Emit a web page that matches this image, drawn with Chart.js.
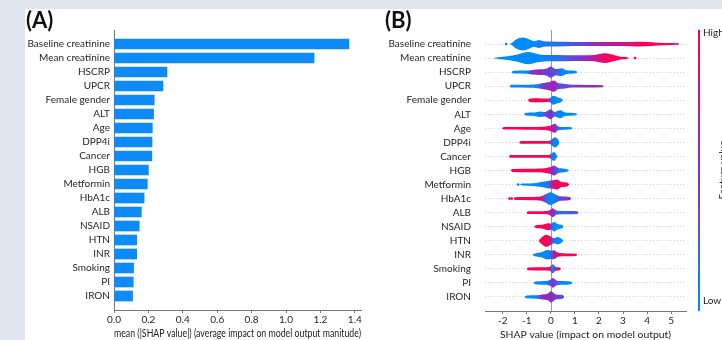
<!DOCTYPE html>
<html>
<head>
<meta charset="utf-8">
<script src="https://cdn.jsdelivr.net/npm/chart.js@4.4.0/dist/chart.umd.min.js"></script>
<style>
html,body{margin:0;padding:0;}
body{width:722px;height:340px;background:#dfe5ef;position:relative;overflow:hidden;font-family:Lato,sans-serif;color:#1a1a1a;}
#sheet{position:absolute;left:25px;top:9px;width:697px;height:331px;background:#fff;}
canvas{position:absolute;}
#cB{left:365px;top:9px;}
#cA{left:25px;top:9px;}
.tag{position:absolute;font:bold 22px Lato;line-height:22px;color:#111;}
.cb-txt{position:absolute;font:10px Lato;line-height:12px;color:#222;}
#cbar{position:absolute;left:698px;top:30px;width:2px;height:281px;background:linear-gradient(to bottom,#ff0052,#8a2dc7,#008bfb);}
#fv{position:absolute;left:0;top:0;font:10px Lato;line-height:12px;color:#222;white-space:nowrap;transform:translate(722px,170px) translate(-50%,-50%) rotate(-90deg);}
</style>
</head>
<body>
<div id="sheet"></div>
<canvas id="cB" width="357" height="331"></canvas>
<canvas id="cA" width="390" height="331"></canvas>
<div class="tag" style="left:26px;top:9px">(A)</div>
<div class="tag" style="left:385px;top:9px">(B)</div>
<div id="cbar"></div>
<div class="cb-txt" style="left:703px;top:26px">High</div>
<div class="cb-txt" style="left:703px;top:294px">Low</div>
<div id="fv">Feature value</div>
<script>
/* ══ DATA ══ */
const features=['Baseline creatinine','Mean creatinine','HSCRP','UPCR','Female gender','ALT','Age','DPP4i','Cancer','HGB','Metformin','HbA1c','ALB','NSAID','HTN','INR','Smoking','PI','IRON'];
const meanAbsShap=[1.366,1.163,0.308,0.285,0.234,0.230,0.223,0.221,0.220,0.200,0.194,0.175,0.159,0.147,0.132,0.132,0.114,0.112,0.108];
const barTicks=[0,0.2,0.4,0.6,0.8,1.0,1.2,1.4];
const shapTicks=[-2,-1,0,1,2,3,4,5];

// beeswarm density knots: [SHAP value, half spread (rows), feature value 0=low..1=high]
const knBaseline=[[-1.72,0,0],[-1.62,0.08,0],[-1.45,0.32,0],[-1.17,0.46,0],[-0.86,0.3,0],[-0.7,0.2,0],[-0.5,0.29,0.05],[-0.3,0.2,0.1],[0,0.18,0.1],[0.6,0.16,0.2],[1.2,0.14,0.35],[2.0,0.14,0.55],[2.7,0.14,0.75],[3.3,0.15,0.85],[3.75,0.17,0.95],[4.2,0.13,1],[4.7,0.08,1],[5.3,0.05,1],[5.35,0,1]];
const knMeanCreat=[[-2.42,0,0],[-2.2,0.06,0],[-1.8,0.14,0],[-1.4,0.26,0],[-0.95,0.44,0],[-0.55,0.3,0],[-0.2,0.22,0.05],[0.3,0.22,0.15],[0.9,0.2,0.35],[1.4,0.2,0.5],[1.8,0.22,0.75],[2.25,0.34,0.95],[2.65,0.2,1],[2.9,0.1,1],[3.2,0.05,1],[3.25,0,1]];
const knHSCRP=[[-1.65,0,0],[-1.55,0.1,0],[-1.0,0.11,0],[-0.8,0.16,0.45],[-0.45,0.2,0.55],[-0.2,0.24,0.4],[0,0.4,0.4],[0.2,0.22,0.3],[0.45,0.28,0],[0.65,0.13,0],[1.05,0.08,0],[1.1,0,0]];
const knUPCR=[[-1.72,0,0],[-1.65,0.1,0],[-0.9,0.11,0],[-0.55,0.14,0.1],[-0.3,0.22,0.45],[-0.05,0.3,0.55],[0.12,0.4,0.6],[0.3,0.22,0.35],[0.6,0.16,0.3],[0.9,0.1,0.45],[1.5,0.09,0.55],[2.15,0.07,0.6],[2.2,0,0.6]];
const knFemale=[[-0.95,0,1],[-0.9,0.1,1],[-0.55,0.15,1],[-0.2,0.12,1],[-0.05,0.14,0.3],[0.1,0.32,0],[0.3,0.2,0],[0.45,0.1,0],[0.5,0,0]];
const knALT=[[-1.12,0,0],[-1.05,0.09,0],[-0.7,0.12,0],[-0.45,0.2,0],[-0.25,0.16,0.3],[0,0.36,0.5],[0.15,0.16,0.2],[0.38,0.28,0],[0.6,0.12,0],[1.05,0.07,0],[1.1,0,0]];
const knAge=[[-2.05,0,1],[-1.95,0.09,1],[-1.0,0.1,1],[-0.3,0.12,1],[0,0.2,0.8],[0.17,0.32,0.5],[0.3,0.14,0.2],[0.6,0.1,0],[0.85,0.07,0],[0.9,0,0]];
const knDPP4i=[[-1.32,0,1],[-1.25,0.1,1],[-0.5,0.1,1],[-0.1,0.1,1],[0.02,0.18,0.2],[0.17,0.36,0],[0.3,0.2,0],[0.36,0,0]];
const knCancer=[[-1.75,0,1],[-1.68,0.1,1],[-0.5,0.1,1],[-0.08,0.1,1],[0.03,0.22,0.1],[0.13,0.32,0],[0.22,0.15,0],[0.28,0,0]];
const knHGB=[[-1.68,0,1],[-1.6,0.1,1],[-0.8,0.12,1],[-0.2,0.17,1],[0,0.26,0.6],[0.13,0.36,0.45],[0.3,0.2,0.1],[0.55,0.13,0],[0.7,0.07,0],[0.75,0,0]];
const knMetformin=[[-1.3,0,0],[-1.2,0.07,0],[-0.7,0.1,0],[-0.4,0.18,0],[-0.15,0.26,0.1],[0.1,0.3,0.8],[0.25,0.36,0.9],[0.45,0.18,1],[0.7,0.12,1],[0.76,0,1]];
const knHbA1c=[[-1.55,0,1],[-1.5,0.1,1],[-0.8,0.11,1],[-0.4,0.16,0.8],[-0.2,0.32,0.2],[-0.03,0.46,0],[0.2,0.3,0.1],[0.4,0.16,0.4],[0.8,0.1,0.5],[0.85,0,0.5]];
const knALB=[[-1.02,0,1],[-0.95,0.1,1],[-0.4,0.1,1],[-0.08,0.15,0.8],[0.08,0.32,0.5],[0.25,0.14,0.2],[0.7,0.12,0.2],[1.1,0.1,0.3],[1.15,0,0.3]];
const knNSAID=[[-0.7,0,1],[-0.62,0.1,1],[-0.35,0.14,1],[-0.12,0.24,1],[0.02,0.22,0.3],[0.13,0.34,0],[0.3,0.18,0],[0.48,0.1,0],[0.52,0,0]];
const knHTN=[[-0.52,0,1],[-0.42,0.18,1],[-0.2,0.43,1],[0,0.3,0.7],[0.12,0.18,0.1],[0.3,0.26,0],[0.45,0.12,0],[0.52,0,0]];
const knINR=[[-0.78,0,0],[-0.7,0.08,0],[-0.4,0.18,0],[-0.15,0.34,0],[0,0.3,0.2],[0.13,0.32,0.6],[0.3,0.14,0.9],[0.7,0.1,1],[1.05,0.08,1],[1.1,0,1]];
const knSmoking=[[-1.02,0,1],[-0.95,0.1,1],[-0.4,0.12,1],[-0.05,0.14,0.9],[0.08,0.32,0],[0.2,0.14,0.6],[0.38,0.1,1],[0.42,0,1]];
const knPI=[[-0.72,0,0],[-0.65,0.1,0],[-0.2,0.14,0],[0,0.24,0.4],[0.08,0.34,0.5],[0.25,0.16,0.2],[0.5,0.14,0],[0.85,0.08,0],[0.9,0,0]];
const knIRON=[[-1.1,0,0],[-1.0,0.1,0],[-0.6,0.12,0],[-0.35,0.18,0.6],[-0.12,0.24,0.5],[0,0.4,0.5],[0.18,0.2,0.45],[0.4,0.15,0.3],[0.52,0.1,0.2],[0.56,0,0.2]];
const swarmKnots=[knBaseline,knMeanCreat,knHSCRP,knUPCR,knFemale,knALT,knAge,knDPP4i,knCancer,knHGB,knMetformin,knHbA1c,knALB,knNSAID,knHTN,knINR,knSmoking,knPI,knIRON];
// single points: [row, SHAP value, feature value]
const swarmDots=[[0,-1.86,0],[1,3.5,1],[10,-1.36,0],[11,-1.72,1],[11,-1.63,1],[2,-0.72,1],[2,-0.5,1],[2,-0.28,1],[3,-0.05,1],[12,0.8,1],[12,1.0,0.6],[18,-0.45,1],[18,-0.3,1],[15,0.2,1]];

/* ══ HELPERS ══ */
const BLUE=[0,139,251],MID=[138,45,199],RED=[255,0,82];
function featColour(v){
  const a=v<0.5?BLUE:MID,b=v<0.5?MID:RED,t=v<0.5?v*2:(v-0.5)*2;
  return `rgb(${a.map((c,i)=>Math.round(c+(b[i]-c)*t)).join(',')})`;
}
function knotGradient(chart,kn){
  const xs=chart.scales.x;
  if(!chart.chartArea||!xs)return featColour(0.5);
  const x0=xs.getPixelForValue(kn[0][0]),x1=xs.getPixelForValue(kn[kn.length-1][0]);
  const g=chart.ctx.createLinearGradient(x0,0,x1,0);
  kn.forEach(k=>g.addColorStop(Math.min(1,Math.max(0,(xs.getPixelForValue(k[0])-x0)/(x1-x0))),featColour(k[2])));
  return g;
}
Chart.defaults.font.family='Lato';
Chart.defaults.font.size=10;
Chart.defaults.color='#262626';
const tickFont={family:'Lato',size:10};

/* ══ (A) BAR ══ */
new Chart(document.getElementById('cA'),{
  type:'bar',
  data:{datasets:[{data:features.map((f,i)=>({x:meanAbsShap[i],y:i})),backgroundColor:'#0e8bf6',barThickness:10}]},
  options:{
    indexAxis:'y',responsive:false,animation:false,
    layout:{padding:{top:21,right:54,left:0,bottom:0}},
    plugins:{legend:{display:false},tooltip:{enabled:false}},
    scales:{
      x:{type:'linear',min:0,max:1.436,
        afterBuildTicks:s=>{s.ticks=barTicks.map(v=>({value:v}));},
        ticks:{font:tickFont,padding:1,callback:v=>v.toFixed(1)},
        grid:{drawOnChartArea:false,tickLength:3,color:'#777'},
        border:{color:'#777'},
        title:{display:true,text:'mean (|SHAP value|) (average impact on model output manitude)',font:{family:'Lato',size:11,lineHeight:1},padding:{top:0,bottom:1},color:'#222'},
        afterFit:s=>{s.height=30;}},
      y:{type:'linear',min:-1,max:19,reverse:true,offset:false,
        afterBuildTicks:s=>{s.ticks=features.map((f,i)=>({value:i}));},
        ticks:{autoSkip:false,padding:4,font:tickFont,callback:v=>features[v]},
        grid:{drawOnChartArea:false,drawTicks:false,offset:false},
        border:{color:'#777'},
        afterFit:s=>{s.width=89;}}
    }
  }
});

/* ══ (B) BEESWARM ══ */
const zeroLine={id:'zeroLine',beforeDatasetsDraw(c){
  const x=Math.round(c.scales.x.getPixelForValue(0))+0.5,a=c.chartArea,ctx=c.ctx;
  ctx.save();ctx.strokeStyle='#9a9a9a';ctx.lineWidth=1;
  ctx.beginPath();ctx.moveTo(x,a.top);ctx.lineTo(x,a.bottom);ctx.stroke();ctx.restore();
}};
const dsB=[];
swarmKnots.forEach((kn,row)=>{
  dsB.push({type:'line',data:kn.map(k=>({x:k[0],y:row-k[1]})),borderColor:'rgba(0,0,0,0)',borderWidth:0,pointRadius:0,fill:false,cubicInterpolationMode:'monotone'});
  dsB.push({type:'line',data:kn.map(k=>({x:k[0],y:row+k[1]})),borderColor:'rgba(0,0,0,0)',borderWidth:0,pointRadius:0,fill:'-1',
    backgroundColor:ctx=>knotGradient(ctx.chart,kn),cubicInterpolationMode:'monotone'});
});
dsB.push({type:'scatter',data:swarmDots.map(d=>({x:d[1],y:d[0]})),pointRadius:1.4,borderWidth:0,
  pointBackgroundColor:swarmDots.map(d=>featColour(d[2]))});

new Chart(document.getElementById('cB'),{
  type:'line',
  data:{datasets:dsB},
  plugins:[zeroLine],
  options:{
    responsive:false,animation:false,
    layout:{padding:{top:21,right:36,left:0,bottom:0}},
    plugins:{legend:{display:false},tooltip:{enabled:false}},
    scales:{
      x:{type:'linear',min:-2.74,max:5.62,
        afterBuildTicks:s=>{s.ticks=shapTicks.map(v=>({value:v}));},
        ticks:{font:tickFont,padding:1,callback:v=>String(v)},
        grid:{drawOnChartArea:false,tickLength:3,color:'#777'},
        border:{color:'#777'},
        title:{display:true,text:'SHAP value (impact on model output)',font:{family:'Lato',size:10.4,lineHeight:1},padding:0,color:'#222'},
        afterFit:s=>{s.height=29;}},
      y:{type:'linear',min:-1,max:19,reverse:true,
        afterBuildTicks:s=>{s.ticks=features.map((f,i)=>({value:i}));},
        ticks:{autoSkip:false,padding:14,font:tickFont,callback:v=>features[v]},
        grid:{drawTicks:false,color:'#cfcfcf'},
        border:{display:false,dash:[1,2]},
        afterFit:s=>{s.width=120;}}
    }
  }
});
</script>
</body>
</html>
